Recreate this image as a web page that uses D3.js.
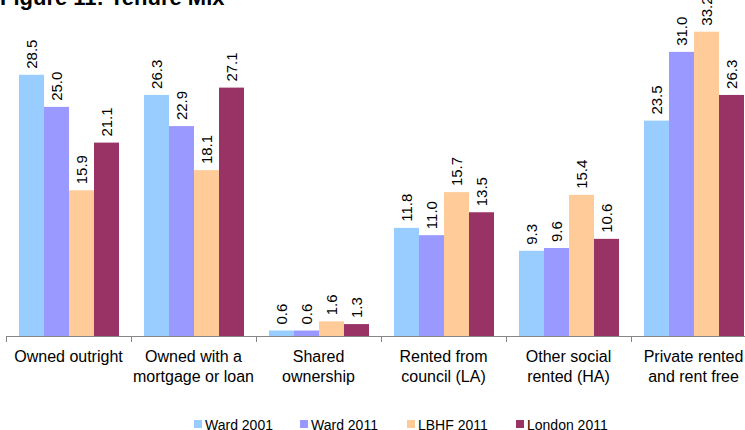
<!DOCTYPE html>
<html>
<head>
<meta charset="utf-8">
<script src="https://cdn.jsdelivr.net/npm/d3@7"></script>
<style>
  html, body { margin: 0; padding: 0; background: #fff; }
  svg { display: block; }
  text { font-family: "Liberation Sans", Arial, sans-serif; fill: #000; }
</style>
</head>
<body>
<svg id="chart" width="745" height="430"></svg>
<script>
const categories = [
  ["Owned outright"],
  ["Owned with a", "mortgage or loan"],
  ["Shared", "ownership"],
  ["Rented from", "council (LA)"],
  ["Other social", "rented (HA)"],
  ["Private rented", "and rent free"]
];
const seriesNames = ["Ward 2001", "Ward 2011", "LBHF 2011", "London 2011"];
const ward2001 = [28.5, 26.3, 0.6, 11.8, 9.3, 23.5];
const ward2011 = [25.0, 22.9, 0.6, 11.0, 9.6, 31.0];
const lbhf2011 = [15.9, 18.1, 1.6, 15.7, 15.4, 33.2];
const london2011 = [21.1, 27.1, 1.3, 13.5, 10.6, 26.3];
const colors = ["#99CCFF", "#9999FF", "#FFCC99", "#993366"];

const seriesValues = [ward2001, ward2011, lbhf2011, london2011];
const svg = d3.select("#chart");

const baseY = 336;
const x = d3.scaleBand().domain(d3.range(categories.length)).range([6, 756]).paddingInner(0).paddingOuter(0);
const xs = d3.scaleBand().domain(d3.range(seriesNames.length)).range([13, 113]).padding(0);
const y = d3.scaleLinear().domain([0, 33.2]).range([baseY, baseY - 304.3]);

// title
svg.append("text").attr("x", 0).attr("y", 5)
  .style("font-weight", "bold").style("font-size", "22px")
  .text("Figure 11: Tenure Mix");

// bars
const groups = svg.selectAll("g.cat").data(categories).join("g")
  .attr("class", "cat")
  .attr("transform", (d, i) => `translate(${x(i)},0)`);

groups.each(function(cat, ci) {
  const g = d3.select(this);
  seriesValues.forEach((vals, si) => {
    const v = vals[ci];
    g.append("rect")
      .attr("x", xs(si))
      .attr("y", y(v))
      .attr("width", xs.bandwidth())
      .attr("height", baseY - y(v))
      .attr("fill", colors[si]);
    const cx = xs(si) + xs.bandwidth() / 2;
    const ty = y(v) - 6;
    g.append("text")
      .attr("transform", `translate(${cx},${ty}) rotate(-90)`)
      .attr("dy", "0.36em")
      .attr("text-anchor", "start")
      .style("font-size", "15px")
      .text(d3.format(".1f")(v));
  });
});

// axis
const axG = svg.append("g").attr("transform", `translate(0,${baseY})`);
axG.append("line").attr("x1", 6).attr("x2", 745).attr("y1", 0.5).attr("y2", 0.5)
  .attr("stroke", "#868686").attr("stroke-width", 1);
const bounds = d3.range(categories.length + 1).map(i => i < categories.length ? x(i) : x(i - 1) + x.bandwidth());
axG.selectAll("line.tick").data(bounds).join("line")
  .attr("class", "tick")
  .attr("x1", d => Math.round(d) + 0.5).attr("x2", d => Math.round(d) + 0.5)
  .attr("y1", 0).attr("y2", 6)
  .attr("stroke", "#868686");

// category labels
groups.each(function(cat) {
  const t = d3.select(this).append("text")
    .attr("text-anchor", "middle")
    .style("font-size", "16px");
  cat.forEach((line, li) => {
    t.append("tspan").attr("x", x.bandwidth() / 2).attr("y", 362 + li * 20).text(line);
  });
});

// legend
const legendX = [194, 300, 407, 516];
const lg = svg.selectAll("g.leg").data(seriesNames).join("g")
  .attr("class", "leg")
  .attr("transform", (d, i) => `translate(${legendX[i]},0)`);
lg.append("rect").attr("x", 0).attr("y", 420).attr("width", 8).attr("height", 8)
  .attr("fill", (d, i) => colors[i]);
lg.append("text").attr("x", 11).attr("y", 430).style("font-size", "14px").text(d => d);
</script>
</body>
</html>
